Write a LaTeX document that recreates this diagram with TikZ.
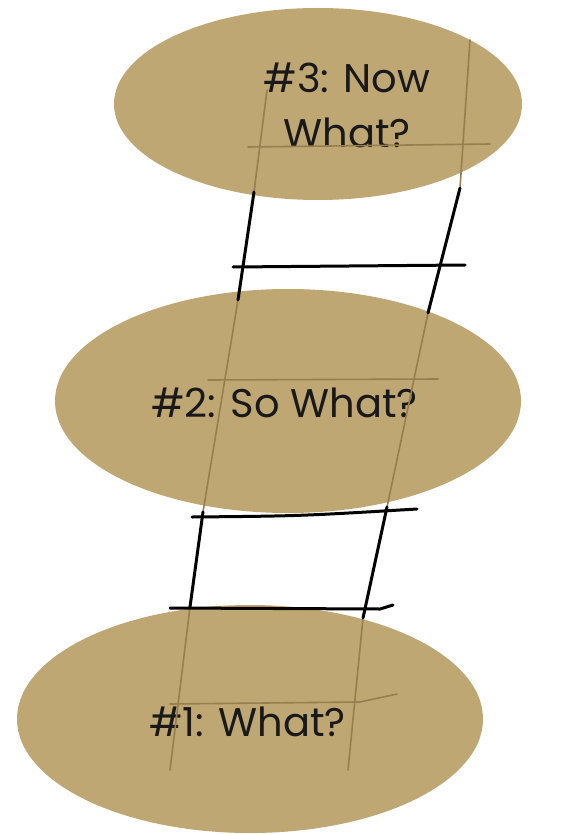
\documentclass[tikz,border=0pt]{standalone}
\usepackage{fontspec}
\setmainfont{Poppins}
\usetikzlibrary{shapes.geometric}
\definecolor{discfill}{RGB}{191,167,116}
\definecolor{railtan}{RGB}{150,126,78}
\begin{document}
\begin{tikzpicture}[x=1pt,y=-1pt,
  disc/.style={ellipse, fill=discfill, draw=none, inner sep=0pt},
  tanline/.style={draw=railtan, line width=1.6pt, line cap=round, line join=round},
  inkline/.style={draw=black, line width=3pt, line cap=round, line join=round},
  txt/.style={font=\fontsize{40}{55}\selectfont, text=black!90, align=center, inner sep=0pt}]
\useasboundingbox (0,0) rectangle (574,834);
\fill[white] (0,0) rectangle (574,834);
% discs
\node[disc, minimum width=408pt, minimum height=192pt] (e3) at (318,104) {};
\node[disc, minimum width=466pt, minimum height=224pt] (e2) at (288,401) {};
\node[disc, minimum width=466pt, minimum height=228pt] (e1) at (250,719) {};
% texts
\node[txt] (t3) at (347,105) {\#3: Now\\What?};
\node[txt, anchor=base] (t2) at (284.5,417) {\#2: So What?};
\node[txt, anchor=base] (t1) at (247.5,736) {\#1: What?};
% rail points
\coordinate (l0) at (267,90);
\coordinate (l1) at (254,192);
\coordinate (l2) at (238,300);
\coordinate (l3) at (203,512);
\coordinate (l4) at (190,607);
\coordinate (l5) at (170,770);
\coordinate (r0) at (470,40);
\coordinate (r1) at (460,188);
\coordinate (r2) at (428,313);
\coordinate (r3) at (387,507);
\coordinate (r4) at (363,618);
\coordinate (r5) at (348,770);
% tan rails and rungs
\draw[tanline] (l0) -- (l1) -- (l2) -- (l3) -- (l4) -- (l5);
\draw[tanline] (r0) -- (r1) -- (r2) -- (r3) -- (r4) -- (r5);
\coordinate (a3) at (248,147); \coordinate (b3) at (490,144);
\coordinate (a2) at (208,380); \coordinate (b2) at (438,379);
\coordinate (a1) at (170,704); \coordinate (m1) at (360,702); \coordinate (b1) at (397,694);
\draw[tanline] (a3) -- (b3);
\draw[tanline] (a2) -- (b2);
\draw[tanline] (a1) -- (m1) -- (b1);
% black rails
\draw[inkline] (l1) -- (l2);
\draw[inkline] (r1) -- (r2);
\draw[inkline] (l3) -- (l4);
\draw[inkline] (r3) -- (r4);
% black rungs
\coordinate (g3a) at (233,267); \coordinate (g3b) at (465,265);
\coordinate (g2a) at (192,517); \coordinate (g2b) at (417,509);
\coordinate (g1a) at (170,608); \coordinate (g1b) at (393,605);
\draw[inkline] (g3a) -- (g3b);
\draw[inkline] (g2a) .. controls (300,516) .. (g2b);
\draw[inkline] (g1a) -- (380,609) -- (g1b);
\end{tikzpicture}
\end{document}
